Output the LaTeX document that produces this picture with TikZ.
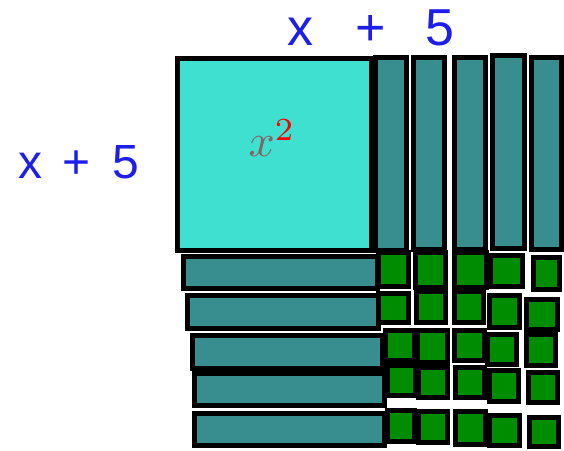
\documentclass[tikz,border=0pt]{standalone}
\usepackage{fontspec}
\setmainfont{Liberation Sans}
\definecolor{sqcyan}{RGB}{64,224,208}
\definecolor{stripteal}{RGB}{56,142,142}
\definecolor{unitgreen}{RGB}{0,140,0}
\definecolor{penblue}{RGB}{30,30,235}
\definecolor{xgrey}{RGB}{130,100,100}
\begin{document}
\begin{tikzpicture}[x=1pt,y=-1pt,
  tile/.style={draw=black,line width=5pt},
  bigsq/.style={tile,fill=sqcyan},
  strip/.style={tile,fill=stripteal},
  unit/.style={tile,fill=unitgreen},
  dimlabel/.style={text=penblue,inner sep=0pt}]
\useasboundingbox (0,0) rectangle (564,450);
% x^2 square
\draw[bigsq] (177.5,58.5) rectangle (371.5,250.5);
% vertical x strips
\draw[strip] (375.5,57.5) rectangle (406.5,250);
\draw[strip] (413.5,57.5) rectangle (444.5,249.5);
\draw[strip] (454.5,57.5) rectangle (485.5,249.5);
\draw[strip] (492.5,55.5) rectangle (524.5,248.5);
\draw[strip] (531.5,57.5) rectangle (561,249.5);
% horizontal x strips
\draw[strip] (183.5,256.5) rectangle (377.5,288.5);
\draw[strip] (187.5,295.5) rectangle (378.5,328.5);
\draw[strip] (192.5,335.5) rectangle (382.5,368);
\draw[strip] (194.5,373.5) rectangle (384.5,405.5);
\draw[strip] (194.5,413.5) rectangle (384.5,445.5);
% unit squares
\foreach \a/\b/\c/\d in {
 378.5/252.5/408.5/286.5, 415.5/252.5/445.5/287.5, 454.5/252.5/486.5/287.5, 490.5/255.5/522.5/286.5, 533.5/257.5/559.5/289.5,
 378.5/293.5/408.5/322.5, 416.5/291.5/445.5/322.5, 454.5/291.5/483.5/322.5, 489.5/295.5/519.5/327.5, 526.5/299.5/557.5/329.5,
 385.5/330.5/414.5/360.5, 417.5/330.5/447.5/362.5, 454.5/330.5/484.5/360.5, 487.5/334.5/516.5/364.5, 526.5/334.5/555.5/365.5,
 387.5/365.5/415.5/395.5, 418.5/367.5/447.5/397.5, 455.5/367.5/484.5/397.5, 489.5/370.5/518.5/401.5, 528.5/372.5/557.5/402.5,
 387.5/410.5/414.5/441.5, 418.5/411.5/447.5/442.5, 455.5/411.5/485.5/444.5, 489.5/415.5/519.5/445.5, 529.5/417.5/558.5/446.5}
  \draw[unit] (\a,\b) rectangle (\c,\d);
% labels
\node[dimlabel,font=\fontsize{52}{52}\selectfont] (top) at (371,28) {x\hspace{42pt}+\hspace{40pt}5};
\node[dimlabel,font=\fontsize{48}{48}\selectfont] (left) at (79,162) {x\hspace{20pt}+\hspace{22pt}5};
\node[inner sep=0pt,scale=4.6] (xsq) at (272,138) {$\color{xgrey}x^{\color{red}2}$};
\end{tikzpicture}
\end{document}
